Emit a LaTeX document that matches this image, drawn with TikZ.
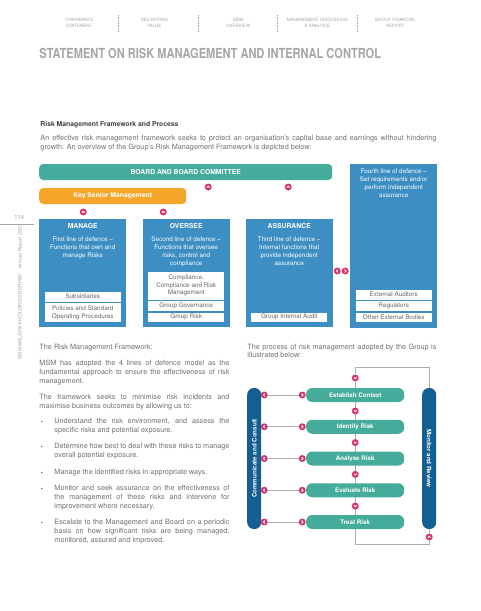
\documentclass[tikz,border=0pt]{standalone}
\usepackage{fontspec}
\setmainfont{TeX Gyre Heros}
\usetikzlibrary{positioning, backgrounds}

\definecolor{boardteal}{HTML}{45AC9C}
\definecolor{ksmorange}{HTML}{F5A52A}
\definecolor{fwblue}{HTML}{3D8FC3}
\definecolor{sidenavy}{HTML}{135F92}
\definecolor{dotpink}{HTML}{D7336F}
\definecolor{wiregray}{HTML}{ADADAD}
\definecolor{bodygray}{HTML}{707070}
\definecolor{titlegray}{HTML}{A6A6A6}
\definecolor{subgray}{HTML}{666666}

\hyphenpenalty=10000
\exhyphenpenalty=10000
\tolerance=3000

\begin{document}
\begin{tikzpicture}[
    x=0.03cm, y=-0.03cm,
    navtext/.style={font=\fontsize{3.8}{5.1}\selectfont, text=titlegray, align=center, inner sep=0pt},
    navsep/.style={titlegray, densely dotted, line width=0.4pt},
    pagetitle/.style={font=\fontsize{11.8}{12}\selectfont\bfseries, text=titlegray, anchor=base west, inner sep=0pt},
    head/.style={font=\fontsize{5.8}{7}\selectfont\bfseries, text=black!75, anchor=base west, inner sep=0pt},
    body/.style={font=\fontsize{6.2}{7.6}\selectfont, text=bodygray, align=justify, anchor=base west, inner sep=0pt},
    bar/.style={rectangle, rounded corners=0.12cm, minimum height=0.48cm, text=white, font=\fontsize{5.8}{7}\selectfont\bfseries},
    linebox/.style={rectangle, fill=fwblue, minimum width=2.61cm, minimum height=3.24cm},
    linehead/.style={text=white, inner sep=0pt, font=\fontsize{5.8}{7}\selectfont\bfseries},
    linetext/.style={anchor=north, align=center, text=white, inner sep=0pt, font=\fontsize{5.4}{6.8}\selectfont},
    sub/.style={rectangle, fill=white, draw=fwblue, line width=0.6pt, minimum width=2.31cm, minimum height=0.32cm,
                align=center, text=subgray, inner sep=0.4pt, font=\fontsize{5.4}{6.4}\selectfont},
    dot/.style={circle, fill=dotpink, minimum size=0.21cm, inner sep=0pt},
    chevup/.style={dot, path picture={\draw[white, line width=0.7pt]
        (path picture bounding box.center) ++(-1.4,0.7) -- ++(1.4,-1.4) -- ++(1.4,1.4);}},
    chevdown/.style={dot, path picture={\draw[white, line width=0.7pt]
        (path picture bounding box.center) ++(-1.4,-0.7) -- ++(1.4,1.4) -- ++(1.4,-1.4);}},
    chevleft/.style={dot, path picture={\draw[white, line width=0.7pt]
        (path picture bounding box.center) ++(0.7,-1.4) -- ++(-1.4,1.4) -- ++(1.4,1.4);}},
    chevright/.style={dot, path picture={\draw[white, line width=0.7pt]
        (path picture bounding box.center) ++(-0.7,-1.4) -- ++(1.4,1.4) -- ++(-1.4,1.4);}},
    stepbox/.style={rectangle, rounded corners=0.18cm, fill=boardteal, minimum width=2.94cm, minimum height=0.42cm,
                    text=white, font=\fontsize{5.3}{6}\selectfont\bfseries},
    sidebar/.style={rectangle, rounded corners=0.2cm, fill=sidenavy, minimum width=4.23cm, minimum height=0.42cm,
                    text=white, font=\fontsize{5.3}{6}\selectfont\bfseries},
    link/.style={wiregray, line width=0.7pt},
    bullet/.style={circle, fill=bodygray, minimum size=0.05cm, inner sep=0pt},
]

\begin{pgfonlayer}{background}
    \path[use as bounding box, fill=white] (0,0) rectangle (480,611);
\end{pgfonlayer}

% === Page header ===

\node[navtext] (nav-chair) at (79,23) {CHAIRMAN'S\\STATEMENT};
\node[navtext] (nav-value) at (154,23) {DELIVERING\\VALUE};
\node[navtext] (nav-msm) at (238,23) {MSM\\OVERVIEW};
\node[navtext] (nav-mda) at (317,23) {MANAGEMENT DISCUSSION\\\& ANALYSIS};
\node[navtext] (nav-fin) at (395,23) {GROUP FINANCIAL\\REPORT};

\draw[navsep] (118,15) -- (118,32);
\draw[navsep] (198,15) -- (198,32);
\draw[navsep] (277,15) -- (277,32);
\draw[navsep] (357,15) -- (357,32);

\node[pagetitle] (title) at (39,58)
    {\scalebox{0.8}[1]{STATEMENT ON RISK MANAGEMENT AND INTERNAL CONTROL}};

% Margin: page number and report name
\node[font=\fontsize{5}{6}\selectfont, text=titlegray, inner sep=0pt] (pgno) at (19,217) {114};
\draw[titlegray, line width=0.4pt] (0,224) -- (34,224);
\node[font=\fontsize{4.2}{5}\selectfont, text=titlegray, inner sep=0pt, rotate=90] (side) at (20,292)
    {MSM MALAYSIA HOLDINGS BERHAD\quad Annual Report 2020};

% === Introduction ===

\node[head] (rmf-head) at (40,126) {Risk Management Framework and Process};
\node[body, text width=11.88cm] (intro) at (40,140.5)
    {An effective risk management framework seeks to protect an organisation's capital base and earnings
     without hindering growth. An overview of the Group's Risk Management Framework is depicted below:};

% === Risk Management Framework ===

\node[bar, fill=boardteal, minimum width=8.79cm] (board) at (185.5,172) {BOARD AND BOARD COMMITTEE};
\node[bar, fill=ksmorange, minimum width=4.41cm] (ksm) at (112.5,196) {Key Senior Management};

\node[chevup] (up-ov-b) at (208,187) {};
\node[chevup] (up-as-b) at (288,187) {};
\node[chevup] (up-ma-k) at (83,212) {};
\node[chevup] (up-ov-k) at (163,212) {};

% lines of defence
\node[linebox] (manage) at (82.5,273) {};
\node[linebox] (oversee) at (186,273) {};
\node[linebox] (assure) at (289,273) {};
\node[linebox, minimum height=4.92cm] (fourth) at (393.5,246) {};

\node[linehead] (manage-h) at (82.5,226) {MANAGE};
\node[linehead] (oversee-h) at (186,226) {OVERSEE};
\node[linehead] (assure-h) at (289,226) {ASSURANCE};

\node[linetext] (manage-t) at (82.5,236.5) {First line of defence --\\Functions that own and\\manage Risks};
\node[linetext] (oversee-t) at (186,236.5) {Second line of defence --\\Functions that oversee\\risks, control and\\compliance};
\node[linetext] (assure-t) at (289,236.5) {Third line of defence --\\Internal functions that\\provide independent\\assurance};
\node[linetext] (fourth-t) at (393.5,168.5) {Fourth line of defence --\\Set requirements and/or\\perform independent\\assurance};

\node[sub, minimum height=0.6cm, anchor=south] (m-sop) at (82.5,323) {Policies and Standard\\Operating Procedures};
\node[sub, above=0pt of m-sop] (m-subs) {Subsidiaries};

\node[sub, anchor=south] (o-risk) at (186,323) {Group Risk};
\node[sub, above=0pt of o-risk] (o-gov) {Group Governance};
\node[sub, minimum height=0.87cm, above=0pt of o-gov] (o-comp) {Compliance,\\Compliance and Risk\\Management};

\node[sub, anchor=south] (a-audit) at (289,323) {Group Internal Audit};

\node[sub, anchor=south] (f-other) at (393.5,323) {Other External Bodies};
\node[sub, above=0pt of f-other] (f-reg) {Regulators};
\node[sub, above=0pt of f-reg] (f-ext) {External Auditors};

% two-way link between third and fourth line
\node[chevleft] (lr-l) at (337,271) {};
\node[chevright] (lr-r) at (345,271) {};

% === Left column text ===

\node[body, text width=5.7cm] (rmf-lead) at (39,349.5) {The Risk Management Framework:};
\node[body, text width=5.7cm] (rmf-p1) at (39,365.5)
    {MSM has adopted the 4 lines of defence model as the fundamental approach to ensure the effectiveness of risk management.};
\node[body, text width=5.7cm] (rmf-p2) at (39,399.5)
    {The framework seeks to minimise risk incidents and maximise business outcomes by allowing us to:};

\node[bullet] (b1) at (41.5,421.5) {};
\node[bullet] (b2) at (41.5,446.5) {};
\node[bullet] (b3) at (41.5,472.5) {};
\node[bullet] (b4) at (41.5,488.5) {};
\node[bullet] (b5) at (41.5,522.5) {};

\node[body, text width=5.25cm] (i1) at (54,423.5)
    {Understand the risk environment, and assess the specific risks and potential exposure.};
\node[body, text width=5.25cm] (i2) at (54,448.5)
    {Determine how best to deal with these risks to manage overall potential exposure.};
\node[body, text width=5.25cm] (i3) at (54,474.5)
    {Manage the identified risks in appropriate ways.};
\node[body, text width=5.25cm] (i4) at (54,490.5)
    {Monitor and seek assurance on the effectiveness of the management of these risks and intervene for improvement where necessary.};
\node[body, text width=5.25cm] (i5) at (54,524.5)
    {Escalate to the Management and Board on a periodic basis on how significant risks are being managed, monitored, assured and improved.};

% === Risk management process ===

\node[body, text width=5.67cm] (proc-lead) at (247,349)
    {The process of risk management adopted by the Group is illustrated below:};

\node[stepbox] (est) at (355,395) {Establish Context};
\node[stepbox] (idf) at (355,426.75) {Identify Risk};
\node[stepbox] (ana) at (355,458.5) {Analyse Risk};
\node[stepbox] (eva) at (355,490.25) {Evaluate Risk};
\node[stepbox] (tre) at (355,522) {Treat Risk};

\node[sidebar, rotate=90] (comm) at (254,458.5) {Communicate and Consult};
\node[sidebar, rotate=-90] (mon) at (429,458.5) {Monitor and Review};

\node[chevdown] (cd0) at (355,378) {};
\node[chevdown] (cd1) at (355,411) {};
\node[chevdown] (cd2) at (355,442.6) {};
\node[chevdown] (cd3) at (355,474.4) {};
\node[chevdown] (cd4) at (355,506) {};
\node[chevup] (cu-mon) at (429,537) {};

\node[chevleft] (cl1) at (264,395) {};
\node[chevleft] (cl2) at (264,426.75) {};
\node[chevleft] (cl3) at (264,458.5) {};
\node[chevleft] (cl4) at (264,490.25) {};
\node[chevleft] (cl5) at (264,522) {};
\node[chevright] (cr1) at (302,395) {};
\node[chevright] (cr2) at (302,426.75) {};
\node[chevright] (cr3) at (302,458.5) {};
\node[chevright] (cr4) at (302,490.25) {};
\node[chevright] (cr5) at (302,522) {};

\begin{pgfonlayer}{background}
    \draw[link] (mon.west) -- ++(0,-20) -| (cd0);
    \draw[link] (cd0) -- (tre);
    \draw[link] (tre.south) -- ++(0,15) -| (cu-mon);
    \draw[link] (cu-mon) -- (mon.east);
    \draw[link] (cl1) -- (cr1);
    \draw[link] (cl2) -- (cr2);
    \draw[link] (cl3) -- (cr3);
    \draw[link] (cl4) -- (cr4);
    \draw[link] (cl5) -- (cr5);
\end{pgfonlayer}

\end{tikzpicture}
\end{document}
